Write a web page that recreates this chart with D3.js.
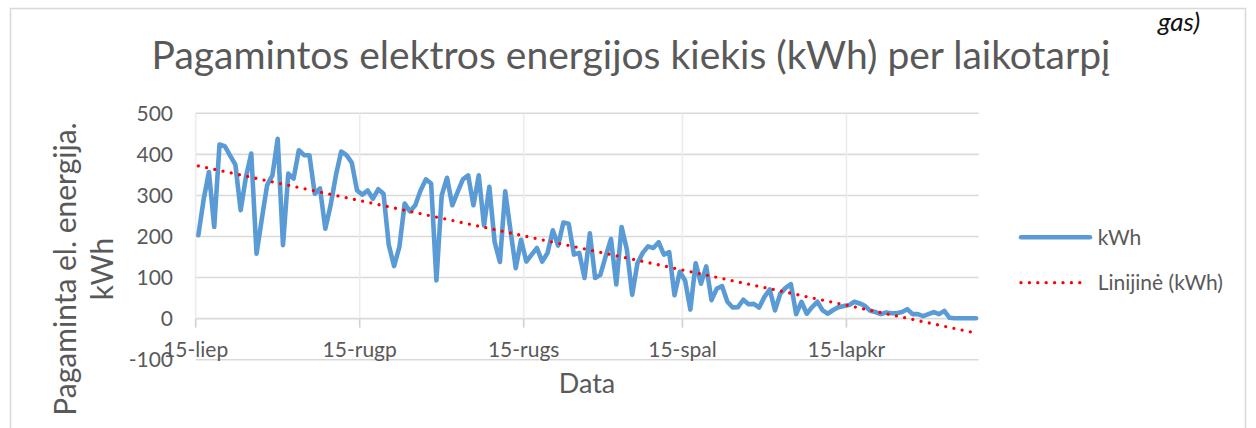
<!DOCTYPE html>
<html>
<head>
<meta charset="utf-8">
<script src="https://cdn.jsdelivr.net/npm/d3@7"></script>
<style>
  html, body { margin: 0; padding: 0; background: #fff; }
  svg { display: block; }
  text { font-family: Lato, "Open Sans", sans-serif; }
</style>
</head>
<body>
<svg id="chart" width="1256" height="428"></svg>
<script>
// ---- data ----
const startDate = new Date(2019, 6, 15);           // 15-liep
const endDate = new Date(2019, 11, 10);            // axis end
const kWh = [
  203, 290, 357, 223, 424, 420, 397, 375, 264, 345,
  402, 158, 243, 325, 349, 438, 179, 353, 341, 410,
  398, 398, 304, 317, 219, 276, 349, 407, 398, 380,
  312, 302, 312, 292, 315, 304, 179, 128, 175, 280,
  261, 276, 312, 339, 329,  93, 300, 343, 276, 308,
  339, 349, 276, 349, 227, 321, 187, 138, 310, 215,
  123, 192, 139, 156, 172, 139, 160, 215, 178, 234,
  231, 156, 160,  99, 208,  99, 107, 152, 194,  83,
  223, 168,  58, 135, 160, 176, 172, 186, 156, 162,
   57, 114,  93,  22, 135,  85, 127,  45,  73,  79,
   41,  27,  28,  46,  35,  36,  27,  53,  71,  20,
   61,  75,  84,  11,  41,  12,  28,  41,  20,  12,
   21,  28,  31,  33,  41,  37,  31,  19,  16,  11,
   15,  13,  13,  16,  23,  11,  11,   6,  11,  16,
   11,  19,   2,   1,   1,   1,   1,   1
];
const monthTicks = [new Date(2019,6,15), new Date(2019,7,15), new Date(2019,8,15), new Date(2019,9,15), new Date(2019,10,15)];
const tickLabels = ["15-liep", "15-rugp", "15-rugs", "15-spal", "15-lapkr"];
const yTicks = [-100, 0, 100, 200, 300, 400, 500];
const titleText = "Pagamintos elektros energijos kiekis (kWh) per laikotarpį";
const yTitle = ["Pagaminta el. energija.", "kWh"];
const xTitle = "Data";
const seriesNames = ["kWh", "Linijinė (kWh)"];

// ---- layout ----
const svg = d3.select("#chart");
const L = 195.7, R = 978.7, T = 113.3, B = 359.7;
const textColor = "#595959";
const gridColor = "#d9d9d9";

const x = d3.scaleTime().domain([startDate, endDate]).range([L, R]);
const y = d3.scaleLinear().domain([-100, 500]).range([B, T]);

const points = kWh.map((v, i) => ({ date: d3.timeHour.offset(d3.timeDay.offset(startDate, i), 12), i, v }));

// chart border
svg.append("rect").attr("x", 10.5).attr("y", 8.5).attr("width", 1235).attr("height", 440)
  .attr("fill", "none").attr("stroke", gridColor).attr("stroke-width", 1.5);

// fragment of surrounding document text
svg.append("text").attr("x", 1158).attr("y", 31).attr("font-family", "Liberation Serif, serif")
  .attr("font-size", 26).attr("fill", "#111").attr("font-style", "italic").text("gas)");

// horizontal gridlines
svg.append("g").selectAll("line").data(yTicks).join("line")
  .attr("x1", L).attr("x2", R)
  .attr("y1", d => y(d)).attr("y2", d => y(d))
  .attr("stroke", gridColor).attr("stroke-width", 1.6);

// vertical gridlines (from top to 0) and tick marks
svg.append("g").selectAll("line").data(monthTicks).join("line")
  .attr("x1", d => x(d)).attr("x2", d => x(d))
  .attr("y1", T).attr("y2", y(0))
  .attr("stroke", "#ececec").attr("stroke-width", 1.6);
svg.append("g").selectAll("line").data(monthTicks).join("line")
  .attr("x1", d => x(d)).attr("x2", d => x(d))
  .attr("y1", y(0)).attr("y2", y(0) + 9)
  .attr("stroke", "#d0d0d0").attr("stroke-width", 1.6);

// y tick labels
svg.append("g").selectAll("text").data(yTicks).join("text")
  .attr("x", 173).attr("y", d => y(d)).attr("dy", "0.36em")
  .attr("text-anchor", "end").attr("font-size", 21).attr("fill", textColor)
  .text(d => d);

// x tick labels
svg.append("g").selectAll("text").data(monthTicks).join("text")
  .attr("x", d => x(d)).attr("y", 357)
  .attr("text-anchor", "middle").attr("font-size", 21).attr("fill", textColor)
  .text((d, i) => tickLabels[i]);

// data line
const line = d3.line().x(d => x(d.date)).y(d => y(d.v));
svg.append("path").datum(points)
  .attr("fill", "none").attr("stroke", "#5B9BD5").attr("stroke-width", 4.6)
  .attr("stroke-linejoin", "round").attr("stroke-linecap", "round")
  .attr("d", line);

// linear trendline (least squares on the data)
const n = points.length;
const mx = d3.mean(points, d => d.i), my = d3.mean(points, d => d.v);
const slope = d3.sum(points, d => (d.i - mx) * (d.v - my)) / d3.sum(points, d => (d.i - mx) ** 2);
const icpt = my - slope * mx;
const trend = [points[0], points[n - 1]].map(p => ({ date: p.date, v: icpt + slope * p.i }));
svg.append("path").datum(trend)
  .attr("fill", "none").attr("stroke", "#FF0000").attr("stroke-width", 3.3)
  .attr("stroke-linecap", "round").attr("stroke-dasharray", "0 8.4")
  .attr("d", line);

// title
svg.append("text").attr("x", 631).attr("y", 69).attr("text-anchor", "middle")
  .attr("font-size", 39).attr("fill", textColor).text(titleText);

// y axis title
const yt = svg.append("text").attr("transform", "translate(0,269) rotate(-90)")
  .attr("text-anchor", "middle").attr("font-size", 30).attr("fill", textColor);
yt.append("tspan").attr("x", 0).attr("y", 76).text(yTitle[0]);
yt.append("tspan").attr("x", 0).attr("y", 113).text(yTitle[1]);

// x axis title
svg.append("text").attr("x", 587).attr("y", 393).attr("text-anchor", "middle")
  .attr("font-size", 27).attr("fill", textColor).text(xTitle);

// legend
const lg = svg.append("g");
lg.append("line").attr("x1", 1021).attr("x2", 1090).attr("y1", 237.3).attr("y2", 237.3)
  .attr("stroke", "#5B9BD5").attr("stroke-width", 4.6).attr("stroke-linecap", "round");
lg.append("line").attr("x1", 1021).attr("x2", 1085).attr("y1", 282.7).attr("y2", 282.7)
  .attr("stroke", "#FF0000").attr("stroke-width", 3.3).attr("stroke-linecap", "round")
  .attr("stroke-dasharray", "0 8.4");
lg.append("text").attr("x", 1097.7).attr("y", 245).attr("font-size", 21).attr("fill", textColor).text(seriesNames[0]);
lg.append("text").attr("x", 1097.7).attr("y", 290).attr("font-size", 21).attr("fill", textColor).text(seriesNames[1]);
</script>
</body>
</html>
